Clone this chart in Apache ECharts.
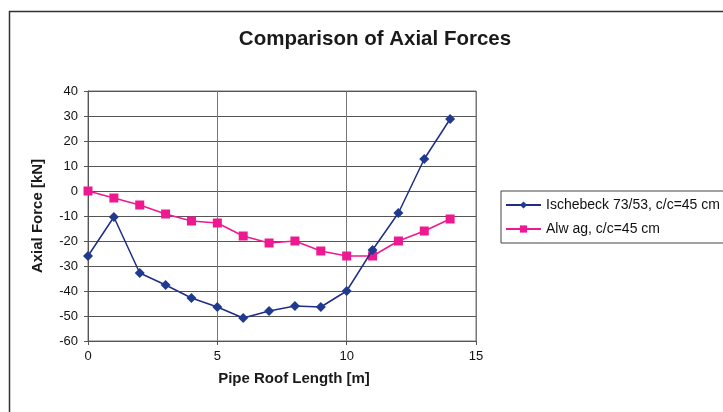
<!DOCTYPE html>
<html>
<head>
<meta charset="utf-8">
<script src="https://cdn.jsdelivr.net/npm/echarts@6/dist/echarts.min.js"></script>
<style>
  html, body { margin: 0; padding: 0; background: #fff; }
  #chart { width: 723px; height: 412px; }
</style>
</head>
<body>
<div id="chart"></div>
<script>
// Pipe roof length positions [m]
const lengths = [0, 1, 2, 3, 4, 5, 6, 7, 8, 9, 10, 11, 12, 13, 14];
// Axial force along the pipe roof [kN]
const ischebeck = [-26, -10.4, -32.8, -37.6, -42.8, -46.4, -50.8, -48, -46, -46.4, -40, -23.6, -8.8, 12.8, 28.8];
const alwag = [0, -2.8, -5.6, -9.2, -12, -12.8, -18, -20.8, -20, -24, -26, -26, -20, -16, -11.2];

const seriesNames = ['Ischebeck 73/53, c/c=45 cm', 'Alw ag, c/c=45 cm'];

const toPairs = vals => vals.map((v, i) => [lengths[i], v]);

const chart = echarts.init(document.getElementById('chart'));
const font = 'Arial, "Liberation Sans", sans-serif';

chart.setOption({
  animation: false,
  backgroundColor: '#fff',
  title: {
    text: 'Comparison of Axial Forces',
    left: 370, top: 24, textAlign: 'center',
    textStyle: { fontFamily: font, fontSize: 20.5, fontWeight: 'bold', color: '#1a1a1a' }
  },
  // frame lines along the top and left edges of the sheet
  graphic: [
    { type: 'line', shape: { x1: 9, y1: 11.5, x2: 723, y2: 11.5 },
      style: { stroke: '#333', lineWidth: 1.5 }, silent: true },
    { type: 'line', shape: { x1: 9.5, y1: 11, x2: 9.5, y2: 412 },
      style: { stroke: '#333', lineWidth: 1.5 }, silent: true }
  ],
  legend: {
    orient: 'vertical',
    left: 501, top: 191,
    padding: [7, 30, 7, 4],
    itemGap: 10,
    itemWidth: 35, itemHeight: 9,
    borderColor: '#444', borderWidth: 1,
    textStyle: { fontFamily: font, fontSize: 14, lineHeight: 14, color: '#111' },
    data: seriesNames
  },
  grid: { left: 88, right: 247, top: 91, bottom: 71, show: true, borderColor: '#777', borderWidth: 1 },
  xAxis: {
    type: 'value', min: 0, max: 15, interval: 5,
    name: 'Pipe Roof Length [m]', nameLocation: 'middle', nameGap: 30,
    nameTextStyle: { fontFamily: font, fontSize: 15, fontWeight: 'bold', color: '#1a1a1a', padding: [0, 0, 0, 24] },
    axisLine: { show: true, onZero: false, lineStyle: { color: '#555' } },
    axisTick: { show: true, inside: false, length: 4, lineStyle: { color: '#555' } },
    axisLabel: { fontFamily: font, fontSize: 13, color: '#111', margin: 9 },
    splitLine: { show: true, lineStyle: { color: '#777', width: 1 } }
  },
  yAxis: {
    type: 'value', min: -60, max: 40, interval: 10,
    name: 'Axial Force [kN]', nameLocation: 'middle', nameGap: 43,
    nameTextStyle: { fontFamily: font, fontSize: 15, fontWeight: 'bold', color: '#1a1a1a' },
    axisLine: { show: true, lineStyle: { color: '#555' } },
    axisTick: { show: true, length: 4, lineStyle: { color: '#555' } },
    axisLabel: { fontFamily: font, fontSize: 13, color: '#111', margin: 10 },
    splitLine: { show: true, lineStyle: { color: '#555', width: 1 } }
  },
  series: [
    {
      name: seriesNames[0], type: 'line', data: toPairs(ischebeck),
      symbol: 'diamond', symbolSize: 10, showAllSymbol: true,
      lineStyle: { color: '#1f2d86', width: 1.5 },
      itemStyle: { color: '#1f3a8f' }, z: 3
    },
    {
      name: seriesNames[1], type: 'line', data: toPairs(alwag),
      symbol: 'rect', symbolSize: 9, showAllSymbol: true,
      lineStyle: { color: '#ee1990', width: 1.5 },
      itemStyle: { color: '#ee1990' }, z: 2
    }
  ]
});
</script>
</body>
</html>
